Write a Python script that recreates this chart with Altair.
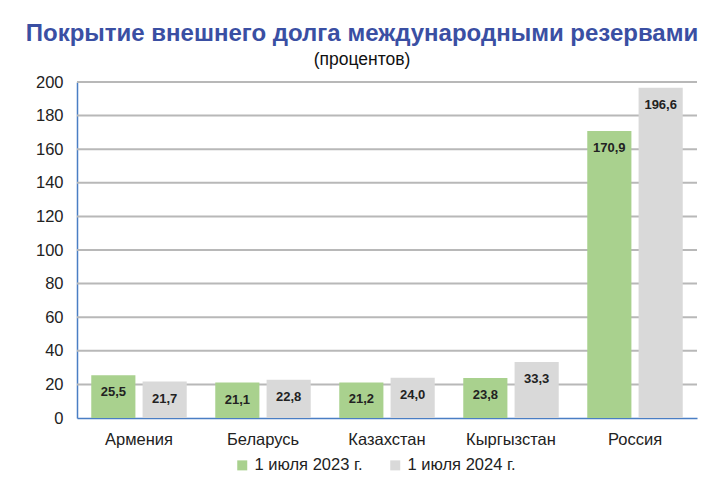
import altair as alt
import pandas as pd

countries = ["Армения", "Беларусь", "Казахстан", "Кыргызстан", "Россия"]
series = ["1 июля 2023 г.", "1 июля 2024 г."]
v2023 = [25.5, 21.1, 21.2, 23.8, 170.9]
v2024 = [21.7, 22.8, 24.0, 33.3, 196.6]
y_ticks = [0, 20, 40, 60, 80, 100, 120, 140, 160, 180, 200]
colors = ["#A9D18E", "#D9D9D9"]

rows = []
for c, a, b in zip(countries, v2023, v2024):
    rows.append({"country": c, "series": series[0], "value": a, "label": f"{a:.1f}".replace(".", ",")})
    rows.append({"country": c, "series": series[1], "value": b, "label": f"{b:.1f}".replace(".", ",")})
df = pd.DataFrame(rows)
grid_df = pd.DataFrame({"value": y_ticks[1:]})

FONT = "Liberation Sans"
GRID = "#B8B8B8"

x = alt.X("country:N", sort=countries, title=None,
          scale=alt.Scale(paddingInner=0.23, paddingOuter=0.115),
          axis=alt.Axis(labelAngle=0, labelFontSize=16.5, labelColor="#222222", labelFont=FONT,
                        ticks=False, domainColor="#4A7EC4", domainWidth=1.5, labelPadding=13))
xo = alt.XOffset("series:N", sort=series, scale=alt.Scale(paddingInner=0.14))
y = alt.Y("value:Q", title=None,
          scale=alt.Scale(domain=[0, 200]),
          axis=alt.Axis(values=y_ticks, tickCount=11, labelFontSize=16.5, labelColor="#222222",
                        labelFont=FONT, ticks=False, domainColor="#4A7EC4", domainWidth=1.5,
                        grid=False, labelOverlap=False, labelPadding=14))

grid = alt.Chart(grid_df).mark_rule(color=GRID, strokeWidth=2).encode(
    y=alt.Y("value:Q"),
)

bars = alt.Chart(df).mark_bar().encode(
    x=x, xOffset=xo, y=y,
    color=alt.Color("series:N", sort=series,
                    scale=alt.Scale(domain=series, range=colors),
                    legend=alt.Legend(title=None, orient="none", legendX=157, legendY=375,
                                      direction="horizontal", symbolType="square",
                                      symbolSize=100, symbolStrokeWidth=0,
                                      labelFontSize=16.5, labelFont=FONT, labelColor="#222222",
                                      columnPadding=24, labelOffset=4)),
)

labels = alt.Chart(df).mark_text(fontWeight="bold", fontSize=13, font=FONT, color="#222222",
                                 baseline="middle", dy=17).encode(
    x=x, xOffset=xo, y=y,
    text="label:N",
)

chart = alt.layer(grid, bars, labels).properties(
    width=620, height=336,
    background="white",
    title=alt.Title("Покрытие внешнего долга международными резервами",
                    subtitle="(процентов)",
                    font=FONT, fontSize=24, fontWeight="bold", color="#3A4FA3",
                    subtitleFont=FONT, subtitleFontSize=17.5, subtitleColor="#111111",
                    anchor="middle", dx=-25, offset=6, subtitlePadding=5),
    autosize=alt.AutoSizeParams(type="none"),
    padding={"left": 77, "top": 82, "right": 23, "bottom": 65},
).configure_view(stroke=None)

chart.save("out.html", embed_options={"renderer": "svg", "actions": False})
